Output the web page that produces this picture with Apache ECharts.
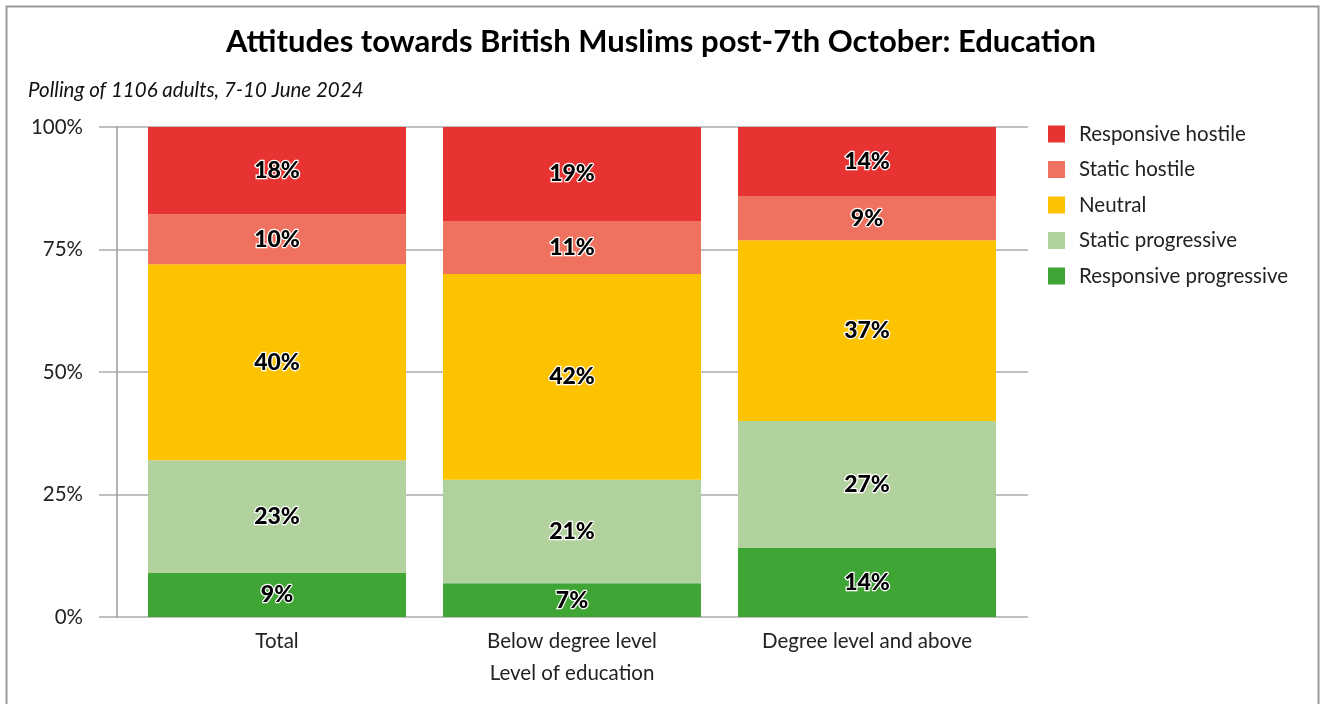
<!DOCTYPE html>
<html>
<head>
<meta charset="utf-8">
<script src="https://cdn.jsdelivr.net/npm/echarts@6/dist/echarts.min.js"></script>
<style>
  html, body { margin: 0; padding: 0; background: #fff; }
  #main { width: 1322px; height: 704px; }
</style>
</head>
<body>
<div id="main"></div>
<script>
// categories and series, bottom to top of each bar
var categories = ["Total", "Below degree level", "Degree level and above"];
var seriesNames = ["Responsive progressive", "Static progressive", "Neutral", "Static hostile", "Responsive hostile"];
var legendOrder = ["Responsive hostile", "Static hostile", "Neutral", "Static progressive", "Responsive progressive"];

// segment sizes as drawn (percent)
var responsiveProgressive = [9.0, 6.9, 14.1];
var staticProgressive = [23.0, 21.1, 25.9];
var neutral = [40.0, 42.0, 36.9];
var staticHostile = [10.2, 10.8, 9.0];
var responsiveHostile = [17.8, 19.2, 14.1];

// printed labels
var labelsRespProg = ["9%", "7%", "14%"];
var labelsStatProg = ["23%", "21%", "27%"];
var labelsNeutral = ["40%", "42%", "37%"];
var labelsStatHost = ["10%", "11%", "9%"];
var labelsRespHost = ["18%", "19%", "14%"];

var yTicks = [0, 25, 50, 75, 100];

var colors = ["#3fa535", "#b1d29c", "#fdc300", "#ef715f", "#e73433"];
var values = [responsiveProgressive, staticProgressive, neutral, staticHostile, responsiveHostile];
var labels = [labelsRespProg, labelsStatProg, labelsNeutral, labelsStatHost, labelsRespHost];

var font = "Lato";
var myChart = echarts.init(document.getElementById("main"));

var series = seriesNames.map(function (name, i) {
  return {
    name: name,
    type: "bar",
    stack: "total",
    xAxisIndex: 1,
    yAxisIndex: 1,
    barWidth: 258,
    itemStyle: { color: colors[i] },
    label: {
      show: true,
      position: "inside",
      color: "#000",
      fontFamily: font,
      fontWeight: 900,
      fontSize: 23,
      textBorderColor: "#fff",
      textBorderWidth: 2.5,
      formatter: function (p) {
        return labels[i][p.dataIndex];
      }
    },
    data: values[i]
  };
});

var option = {
  animation: false,
  textStyle: { fontFamily: font },
  title: [
    {
      text: "Attitudes towards British Muslims post-7th October: Education",
      left: "center",
      top: 21,
      textStyle: { fontFamily: font, fontWeight: "bold", fontSize: 31, color: "#000" }
    },
    {
      text: "Polling of 1106 adults, 7-10 June 2024",
      left: 23,
      top: 75,
      textStyle: { fontFamily: font, fontStyle: "italic", fontWeight: "normal", fontSize: 20.5, color: "#111" }
    }
  ],
  legend: {
    data: legendOrder,
    orient: "vertical",
    left: 1043,
    top: 118.5,
    itemWidth: 17,
    itemHeight: 17,
    itemGap: 14.5,
    icon: "rect",
    textStyle: { fontFamily: font, fontSize: 20.5, color: "#222", padding: [0, 0, 0, 9] }
  },
  graphic: [
    {
      type: "rect",
      shape: { x: 6.5, y: 6.5, width: 1312, height: 760 },
      style: { fill: "none", stroke: "#999", lineWidth: 2 },
      silent: true
    }
  ],
  grid: [
    { left: 117, width: 911, top: 127, height: 490 },
    { left: 129.5, width: 885, top: 127, height: 490 }
  ],
  xAxis: [
    { gridIndex: 0, type: "value", min: 0, max: 1, show: false },
    {
      gridIndex: 1,
      type: "category",
      data: categories,
      name: "Level of education",
      nameLocation: "middle",
      nameGap: 46,
      nameTextStyle: { fontFamily: font, fontSize: 20.5, color: "#222" },
      axisLine: { show: false },
      axisTick: { show: false },
      axisLabel: { fontFamily: font, fontSize: 20.5, color: "#222", margin: 14 }
    }
  ],
  yAxis: [
    {
      gridIndex: 0,
      type: "value",
      min: 0,
      max: 100,
      interval: 25,
      axisLine: { show: true, lineStyle: { color: "#999", width: 1.5 } },
      axisTick: { show: true, length: 18, lineStyle: { color: "#aaa", width: 1.5 } },
      splitLine: { show: true, lineStyle: { color: "#aaa", width: 1.5 } },
      axisLabel: {
        fontFamily: font,
        fontSize: 20.5,
        color: "#222",
        margin: 34,
        formatter: function (v) {
          return yTicks.indexOf(v) >= 0 ? v + "%" : "";
        }
      }
    },
    { gridIndex: 1, type: "value", min: 0, max: 100, show: false }
  ],
  series: series
};

myChart.setOption(option);
</script>
</body>
</html>
